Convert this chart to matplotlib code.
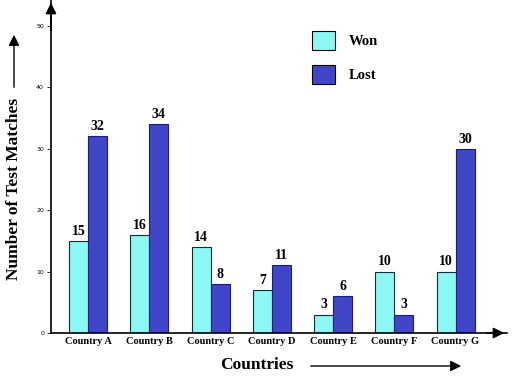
import numpy as np
import matplotlib
matplotlib.use('Agg')
import matplotlib.pyplot as plt
from matplotlib.patches import Rectangle, FancyArrowPatch

countries = ['Country A', 'Country B', 'Country C', 'Country D',
             'Country E', 'Country F', 'Country G']
won = [15, 16, 14, 7, 3, 10, 10]
lost = [32, 34, 8, 11, 6, 3, 30]
y_ticks = [0, 10, 20, 30, 40, 50]

won_color = '#8cf8f4'
lost_color = '#4146c8'
serif = 'Liberation Serif'

fig = plt.figure(figsize=(5.12, 3.76), dpi=100)
ax = fig.add_axes([51/512, 43/376, 456/512, 333/376])

x = np.arange(len(countries))
w = 0.31
ax.bar(x - w/2, won, w, color=won_color, edgecolor='#103030', linewidth=0.8)
ax.bar(x + w/2, lost, w, color=lost_color, edgecolor='#1a1a80', linewidth=0.8)

for xi, v in zip(x - w/2, won):
    ax.text(xi, v + 0.5, str(v), ha='center', va='bottom', family=serif,
            fontweight='bold', fontsize=10)
for xi, v in zip(x + w/2, lost):
    ax.text(xi, v + 0.5, str(v), ha='center', va='bottom', family=serif,
            fontweight='bold', fontsize=10)

ax.set_xlim(-0.605, 6.84)
ax.set_ylim(0, 54.2)

for s in ['top', 'right']:
    ax.spines[s].set_visible(False)
ax.spines['left'].set_linewidth(1.2)
ax.spines['bottom'].set_linewidth(1.2)

ax.set_xticks(x)
ax.set_xticklabels(countries, family=serif, fontweight='bold', fontsize=7.5)
ax.tick_params(axis='x', length=0, pad=3)
ax.set_yticks(y_ticks)
ax.set_yticklabels([str(t) for t in y_ticks], fontsize=4.5)
ax.tick_params(axis='y', length=3, width=0.6, pad=2)

# axis arrows
ax.annotate('', xy=(0, 1.0), xytext=(0, 0.9), xycoords='axes fraction',
            arrowprops=dict(arrowstyle='-|>', color='black', lw=1.2,
                            mutation_scale=16))
ax.annotate('', xy=(1.0, 0), xytext=(0.95, 0), xycoords='axes fraction',
            arrowprops=dict(arrowstyle='-|>', color='black', lw=1.2,
                            mutation_scale=16))

# axis titles with arrows
fig.text(14/512, 1 - 189/376, 'Number of Test Matches', rotation=90,
         ha='center', va='center', family=serif, fontweight='bold', fontsize=12.5)
fig.patches.append(FancyArrowPatch(
    (14/512, 1 - 90/376), (14/512, 1 - 32/376), transform=fig.transFigure,
    arrowstyle='-|>', mutation_scale=16, color='black', lw=1.0))
fig.text(257/512, 1 - 365/376, 'Countries', ha='center', va='center',
         family=serif, fontweight='bold', fontsize=12.5)
fig.patches.append(FancyArrowPatch(
    (308/512, 1 - 366/376), (464/512, 1 - 366/376), transform=fig.transFigure,
    arrowstyle='-|>', mutation_scale=16, color='black', lw=1.0))

handles = [Rectangle((0, 0), 1, 1, facecolor=won_color, edgecolor='black', lw=0.8),
           Rectangle((0, 0), 1, 1, facecolor=lost_color, edgecolor='black', lw=0.8)]
ax.legend(handles, ['Won', 'Lost'], loc='upper left',
          bbox_to_anchor=(299/512, 1 - 18/376), bbox_transform=fig.transFigure,
          frameon=False, handlelength=1.6, handleheight=1.6, labelspacing=1.05,
          handletextpad=0.9, prop={'family': serif, 'weight': 'bold', 'size': 10.5})

fig.savefig('out.png', dpi=100)
